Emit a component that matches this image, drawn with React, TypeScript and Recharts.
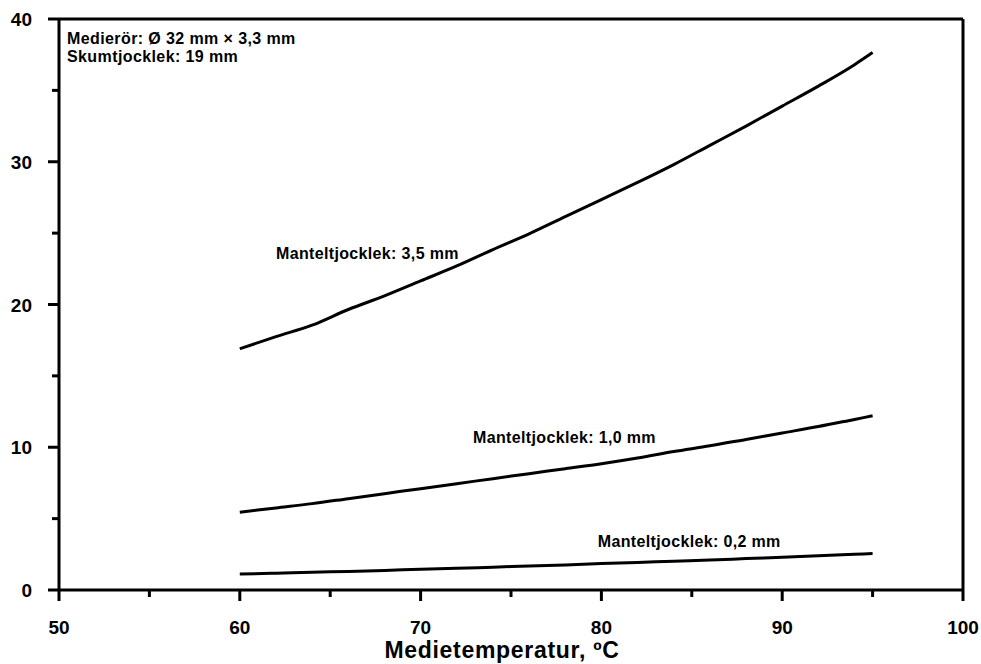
import { LineChart, Line, XAxis, YAxis, ReferenceLine, ReferenceDot } from "recharts";

const temps = [60, 62, 64, 66, 68, 70, 72, 74, 76, 78, 80, 82, 84, 86, 88, 90, 92, 94, 95];
const mantel35 = [16.9, 17.75, 18.55, 19.65, 20.6, 21.65, 22.7, 23.85, 24.95, 26.15, 27.35, 28.55, 29.8, 31.15, 32.5, 33.9, 35.3, 36.8, 37.65];
const mantel10 = [5.45, 5.75, 6.05, 6.4, 6.75, 7.1, 7.45, 7.8, 8.15, 8.5, 8.85, 9.25, 9.7, 10.1, 10.55, 11.0, 11.45, 11.95, 12.2];
const mantel02 = [1.12, 1.18, 1.25, 1.3, 1.37, 1.45, 1.52, 1.6, 1.68, 1.76, 1.85, 1.93, 2.02, 2.1, 2.2, 2.3, 2.4, 2.5, 2.55];

const xTicks = [50, 55, 60, 65, 70, 75, 80, 85, 90, 95, 100];
const yTicks = [0, 5, 10, 15, 20, 25, 30, 35, 40];

const curveLabels = ["Manteltjocklek: 3,5 mm", "Manteltjocklek: 1,0 mm", "Manteltjocklek: 0,2 mm"];
const labelTemps = [62, 72.9, 79.8];
const labelValues = [23.2, 10.3, 3.0];
const infoLines = ["Medierör: Ø 32 mm × 3,3 mm", "Skumtjocklek: 19 mm"];

const data = temps.map((t, i) => ({ t, a: mantel35[i], b: mantel10[i], c: mantel02[i] }));

const FONT = "'Liberation Sans', Arial, sans-serif";

const XTick = ({ x, y, payload }: any) => {
  const major = payload.value % 10 === 0;
  return (
    <g>
      <line x1={x} x2={x} y1={y} y2={y + (major ? 11 : 7)} stroke="#000" strokeWidth={3} />
      {major && (
        <text x={x} y={y + 44} textAnchor="middle" fontFamily={FONT} fontWeight="bold" fontSize={19} fill="#000">
          {payload.value}
        </text>
      )}
    </g>
  );
};

const YTick = ({ x, y, payload }: any) => {
  const major = payload.value % 10 === 0;
  return (
    <g>
      <line x1={x} x2={x - (major ? 11 : 7)} y1={y} y2={y} stroke="#000" strokeWidth={3} />
      {major && (
        <text x={x - 27} y={y + 7} textAnchor="end" fontFamily={FONT} fontWeight="bold" fontSize={19} fill="#000">
          {payload.value}
        </text>
      )}
    </g>
  );
};

const curveLabel = (text: string) => ({ viewBox }: any) => (
  <text x={viewBox.x} y={viewBox.y} fontFamily={FONT} fontWeight="bold" fontSize={16} letterSpacing={0.35} fill="#000">
    {text}
  </text>
);

const infoLabel = ({ viewBox }: any) => (
  <text fontFamily={FONT} fontWeight="bold" fontSize={16} letterSpacing={0.4} fill="#000">
    {infoLines.map((l, i) => (
      <tspan key={i} x={viewBox.x + 8} y={viewBox.y + 25 + i * 18}>{l}</tspan>
    ))}
  </text>
);

const xTitle = ({ viewBox }: any) => (
  <text x={viewBox.x + viewBox.width / 2 - 9} y={viewBox.y + 68} textAnchor="middle" fontFamily={FONT} fontWeight="bold" fontSize={23} letterSpacing={0.7} fill="#000">
    Medietemperatur, ºC
  </text>
);

export default function App() {
  return (
    <div style={{ position: "absolute", left: 0, top: 0, background: "#fff" }}>
      <LineChart width={981} height={664} data={data} margin={{ top: 19, right: 18, bottom: 0, left: 0 }}>
        <XAxis
          dataKey="t"
          type="number"
          domain={[50, 100]}
          ticks={xTicks}
          interval={0}
          height={74}
          tickSize={0}
          tickMargin={0}
          tick={<XTick />}
          axisLine={{ stroke: "#000", strokeWidth: 3 }}
          label={{ content: xTitle }}
        />
        <YAxis
          type="number"
          domain={[0, 40]}
          ticks={yTicks}
          interval={0}
          width={59}
          tickSize={0}
          tickMargin={0}
          tick={<YTick />}
          axisLine={{ stroke: "#000", strokeWidth: 3 }}
        />
        <ReferenceLine y={40} stroke="#000" strokeWidth={3} />
        <ReferenceLine x={100} stroke="#000" strokeWidth={3} />
        <Line type="monotone" dataKey="a" stroke="#000" strokeWidth={3} dot={false} isAnimationActive={false} />
        <Line type="monotone" dataKey="b" stroke="#000" strokeWidth={3} dot={false} isAnimationActive={false} />
        <Line type="monotone" dataKey="c" stroke="#000" strokeWidth={3} dot={false} isAnimationActive={false} />
        {curveLabels.map((txt, i) => (
          <ReferenceDot key={i} x={labelTemps[i]} y={labelValues[i]} r={0} fill="none" stroke="none" label={{ content: curveLabel(txt) }} />
        ))}
        <ReferenceDot x={50} y={40} r={0} fill="none" stroke="none" label={{ content: infoLabel }} />
      </LineChart>
    </div>
  );
}
